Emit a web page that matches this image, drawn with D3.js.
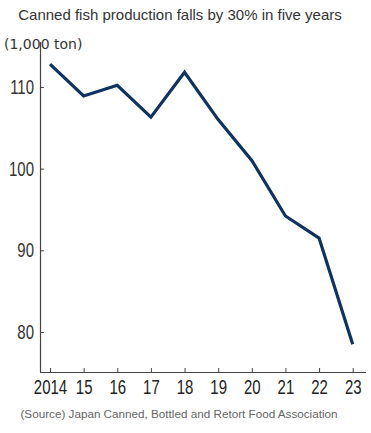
<!DOCTYPE html>
<html>
<head>
<meta charset="utf-8">
<script src="https://cdn.jsdelivr.net/npm/d3@7"></script>
<style>
  body { margin: 0; background: #fff; }
</style>
</head>
<body>
<svg id="chart" width="371" height="433"></svg>
<script>
var years = ["2014", "15", "16", "17", "18", "19", "20", "21", "22", "23"]
var production = [112.8, 108.9, 110.2, 106.3, 111.8, 106.0, 101.0, 94.2, 91.5, 78.5]
var yTicks = [80, 90, 100, 110]

var svg = d3.select("#chart")
var margin = {top: 42, right: 8, bottom: 61, left: 40}
var width = 371 - margin.left - margin.right
var height = 433 - margin.top - margin.bottom

var x = d3.scalePoint().domain(years).range([10, 312.7])
var y = d3.scaleLinear().domain([75.1, 115.5]).range([height, 0])

var g = svg.append("g").attr("transform", "translate(" + margin.left + "," + margin.top + ")")

svg.append("text")
  .attr("x", 180).attr("y", 20)
  .attr("text-anchor", "middle")
  .attr("font-family", "Liberation Sans, Arial, sans-serif")
  .attr("font-size", 15)
  .attr("fill", "#333")
  .text("Canned fish production falls by 30% in five years")

svg.append("text")
  .attr("x", 4).attr("y", 49)
  .attr("font-family", "DejaVu Sans, sans-serif")
  .attr("font-size", 14)
  .attr("fill", "#333")
  .text("(1,000 ton)")

// narrow tick numbers: squeeze a normal face horizontally
var tickFont = "Liberation Sans, Arial, sans-serif"
var squeeze = 0.73

var yAxis = g.append("g")
  .call(d3.axisRight(y).tickValues(yTicks).tickSize(4).tickFormat(d3.format("d")))
yAxis.select(".domain").attr("stroke", "#444").attr("stroke-width", 1.2).attr("d", "M0.5," + height + "V0")
yAxis.selectAll(".tick line").attr("stroke", "#444")
yAxis.selectAll(".tick text")
  .attr("x", -6 / squeeze).attr("text-anchor", "end")
  .attr("transform", "scale(" + squeeze + ",1)")
  .attr("font-family", tickFont)
  .attr("font-size", 20.5).attr("fill", "#333")

var xAxis = g.append("g").attr("transform", "translate(0," + height + ")")
  .call(d3.axisTop(x).tickSize(4))
xAxis.select(".domain").attr("stroke", "#444").attr("stroke-width", 1.2).attr("d", "M0,0.5H" + (width + 3))
xAxis.selectAll(".tick line").attr("stroke", "#444")
xAxis.selectAll(".tick text")
  .attr("y", 22).attr("dy", 0)
  .attr("transform", "scale(" + squeeze + ",1)")
  .attr("font-family", tickFont)
  .attr("font-size", 20.5).attr("fill", "#222")

var line = d3.line()
  .x(function(d, i){ return x(years[i]) })
  .y(function(d){ return y(d) })

g.append("path")
  .datum(production)
  .attr("d", line)
  .attr("fill", "none")
  .attr("stroke", "#0e3360")
  .attr("stroke-width", 3.2)
  .attr("stroke-linejoin", "miter")

svg.append("text")
  .attr("x", 179).attr("y", 418)
  .attr("text-anchor", "middle")
  .attr("font-family", "Liberation Sans, Arial, sans-serif")
  .attr("font-size", 11.7)
  .attr("fill", "#666")
  .text("(Source) Japan Canned, Bottled and Retort Food Association")
</script>
</body>
</html>
